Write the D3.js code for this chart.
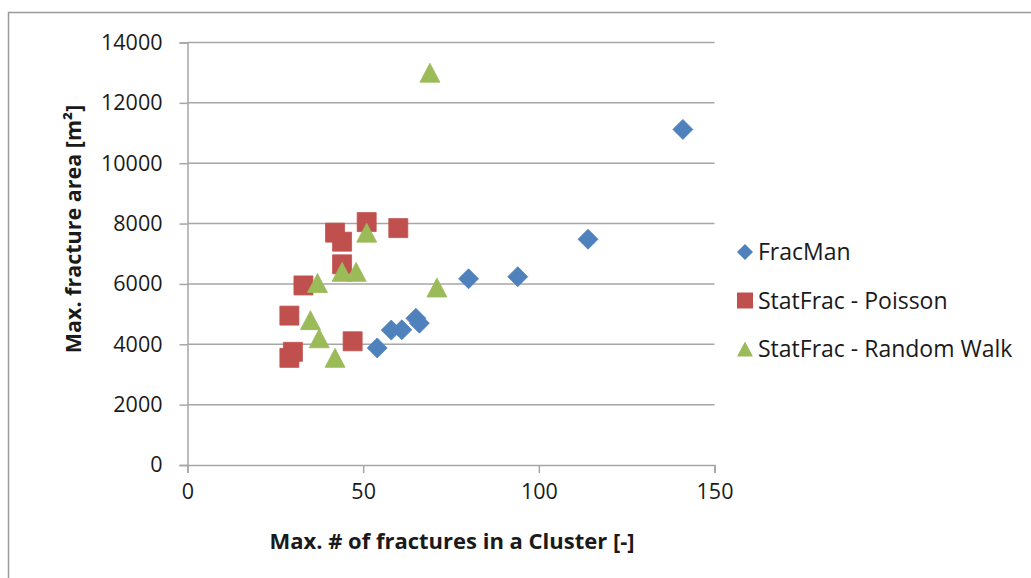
<!DOCTYPE html>
<html>
<head>
<meta charset="utf-8">
<script src="https://cdn.jsdelivr.net/npm/d3@7"></script>
<style>
  html, body { margin: 0; padding: 0; background: #fff; }
  svg { display: block; }
  text { font-family: "Open Sans", Lato, sans-serif; fill: #1a1a1a; }
</style>
</head>
<body>
<svg id="chart" width="1031" height="578"></svg>
<script>
// Maximum cluster size vs. maximum fracture area, three generators
const fracManX = [54, 58, 61, 65, 66, 80, 94, 114, 141];
const fracManY = [3880, 4470, 4480, 4860, 4700, 6170, 6240, 7480, 11120];

const poissonX = [29, 30, 29, 33, 42, 44, 44, 51, 60, 47];
const poissonY = [3550, 3750, 4950, 5950, 7700, 7400, 6650, 8050, 7850, 4100];

const randomWalkX = [42, 35, 37.5, 37, 44, 48, 51, 71, 69];
const randomWalkY = [3550, 4800, 4200, 6030, 6400, 6400, 7700, 5880, 13000];

const seriesNames = ["FracMan", "StatFrac - Poisson", "StatFrac - Random Walk"];
const seriesColors = ["#4F81BD", "#C0504D", "#9BBB59"];
const xTicks = [0, 50, 100, 150];
const yTicks = [0, 2000, 4000, 6000, 8000, 10000, 12000, 14000];

const svg = d3.select("#chart");

// chart frame
svg.append("rect")
  .attr("x", 8.5).attr("y", 12.5)
  .attr("width", 1100).attr("height", 700)
  .attr("fill", "none").attr("stroke", "#9a9a9a").attr("stroke-width", 1.5);

const x = d3.scaleLinear().domain([0, 150]).range([187.5, 714.5]);
const y = d3.scaleLinear().domain([0, 14000]).range([465, 42.5]);

// horizontal gridlines
svg.append("g")
  .selectAll("line")
  .data(yTicks.slice(1))
  .join("line")
  .attr("x1", x(0)).attr("x2", x(150))
  .attr("y1", d => y(d)).attr("y2", d => y(d))
  .attr("stroke", "#a6a6a6").attr("stroke-width", 1.5);

// axes
const xAxis = svg.append("g")
  .attr("transform", `translate(0,${y(0)})`)
  .call(d3.axisBottom(x).tickValues(xTicks).tickSize(8).tickPadding(11).tickFormat(d3.format("d")));
const yAxis = svg.append("g")
  .attr("transform", `translate(${x(0)},0)`)
  .call(d3.axisLeft(y).tickValues(yTicks).tickSize(8).tickPadding(17).tickFormat(d3.format("d")));

[xAxis, yAxis].forEach(g => {
  g.select(".domain").attr("stroke", "#a6a6a6").attr("stroke-width", 1.5);
  g.selectAll(".tick line").attr("stroke", "#a6a6a6").attr("stroke-width", 1.5);
  g.selectAll(".tick text")
    .style("font-family", "'Open Sans', Lato, sans-serif")
    .style("font-size", "21.5px").attr("fill", "#1a1a1a");
});

// axis titles
svg.append("text")
  .attr("x", 452).attr("y", 549)
  .attr("text-anchor", "middle")
  .style("font-size", "22px").style("font-weight", "bold")
  .text("Max. # of fractures in a Cluster [-]");

svg.append("text")
  .attr("transform", "translate(81,229) rotate(-90)")
  .attr("text-anchor", "middle")
  .style("font-size", "21.5px").style("font-weight", "bold")
  .text("Max. fracture area [m²]");

// marker outlines
function diamondPath(r) { return `M0,${-r}L${r},0L0,${r}L${-r},0Z`; }
function squarePath(h) { return `M${-h},${-h}H${h}V${h}H${-h}Z`; }
function trianglePath(w, h) { return `M0,${-h/2}L${w/2},${h/2}L${-w/2},${h/2}Z`; }

const shapes = [diamondPath(10), squarePath(9.5), trianglePath(20, 19)];

const allSeries = [
  d3.zip(fracManX, fracManY),
  d3.zip(poissonX, poissonY),
  d3.zip(randomWalkX, randomWalkY)
];

allSeries.forEach((pts, i) => {
  svg.append("g")
    .selectAll("path")
    .data(pts)
    .join("path")
    .attr("transform", d => `translate(${x(d[0])},${y(d[1])})`)
    .attr("d", shapes[i])
    .attr("fill", seriesColors[i])
    .attr("stroke", seriesColors[i])
    .attr("stroke-width", 0.8)
    .attr("stroke-linejoin", "round");
});

// legend
const legendShapes = [diamondPath(8), squarePath(8), trianglePath(16, 15)];
const legend = svg.append("g").attr("transform", "translate(745,252)");
seriesNames.forEach((name, i) => {
  const row = legend.append("g").attr("transform", `translate(0,${i * 48.5})`);
  row.append("path").attr("d", legendShapes[i]).attr("fill", seriesColors[i]);
  row.append("text").attr("x", 13).attr("y", 8)
    .style("font-size", "23px").text(name);
});
</script>
</body>
</html>
